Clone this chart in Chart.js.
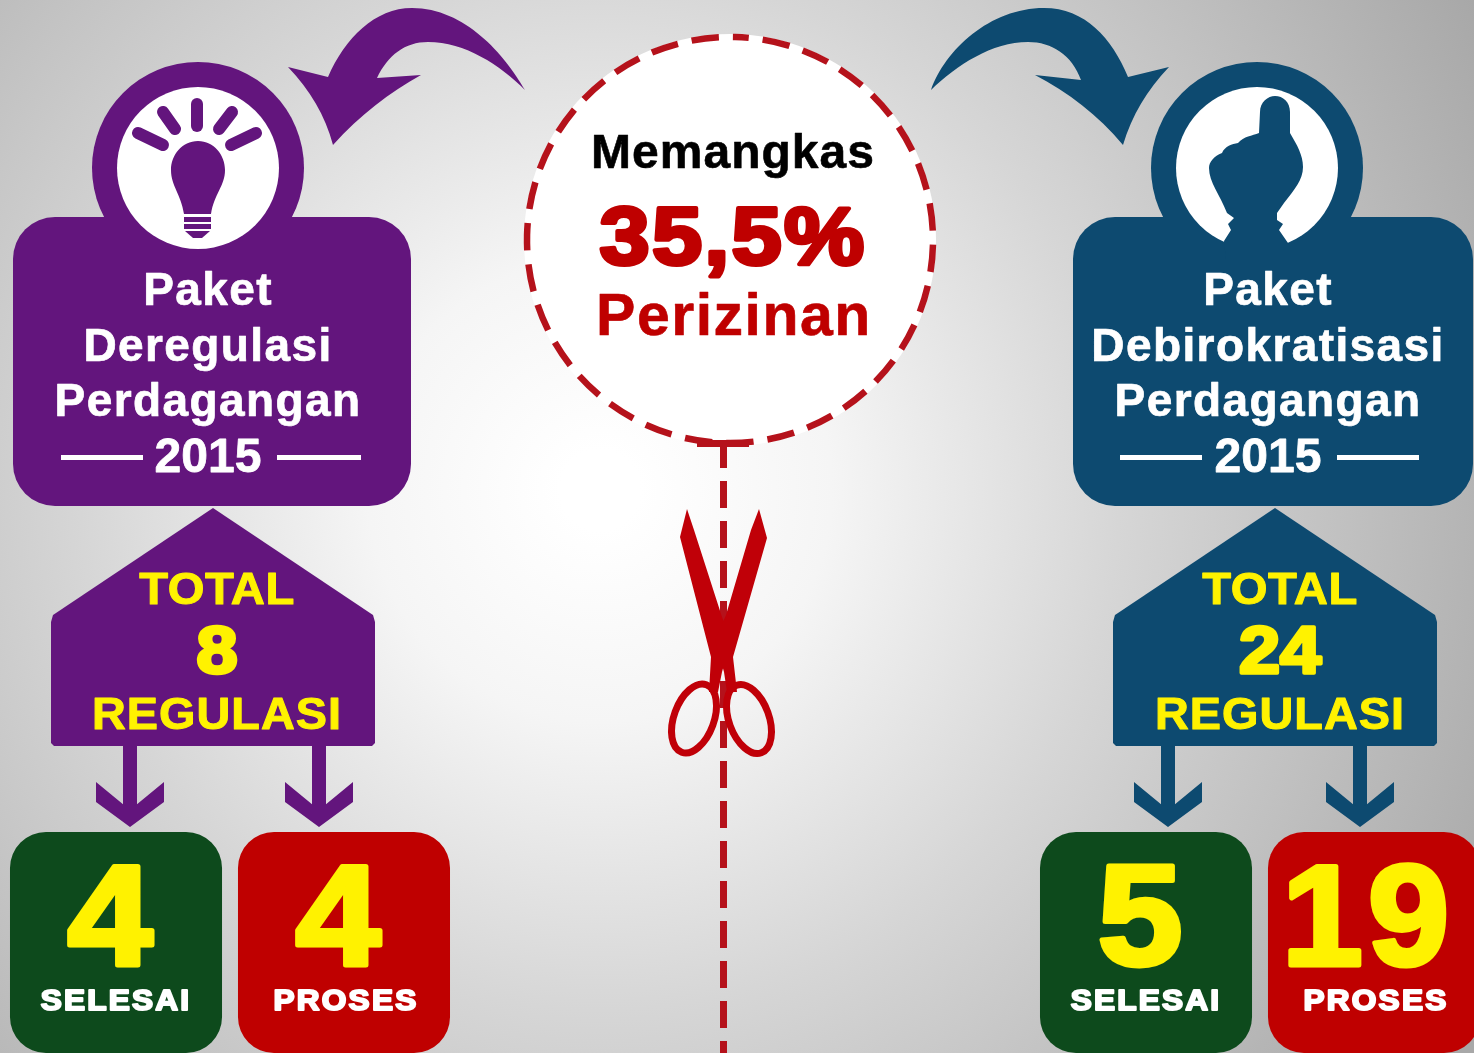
<!DOCTYPE html>
<html>
<head>
<meta charset="utf-8">
<title>Memangkas 35,5% Perizinan</title>
<script src="https://cdn.jsdelivr.net/npm/chart.js@4"></script>
<style>
  html, body { margin: 0; padding: 0; background: #ddd; overflow: hidden; }
  canvas { display: block; }
</style>
</head>
<body>
<canvas id="myChart" width="1474" height="1053"></canvas>
<script>
// Data
const packages = ["Deregulasi", "Debirokratisasi"];
const selesai = [4, 5];
const proses = [4, 19];
const totals = [8, 24];
const statusLabels = ["SELESAI", "PROSES"];
const packageTitles = [
  ["Paket", "Deregulasi", "Perdagangan"],
  ["Paket", "Debirokratisasi", "Perdagangan"],
];
const packageYear = "2015";
const totalWords = ["TOTAL", "REGULASI"];
const cutLabels = ["Memangkas", "35,5%", "Perizinan"];

const PURPLE = "#63157d";
const BLUE = "#0d4a70";
const GREEN = "#0d4a1c";
const RED = "#bf0000";
const DASH_RED = "#b5121b";
const YELLOW = "#fff200";
const FONT = '"Liberation Sans", Arial, sans-serif';

const ctx = document.getElementById("myChart").getContext("2d");

// every tile is the same size in the picture, whatever number it holds
class TileScale extends Chart.LinearScale {
  getPixelForValue(v) {
    return v > 0 ? this.top : this.bottom;
  }
}
TileScale.id = "tile";
TileScale.defaults = Chart.LinearScale.defaults;
Chart.register(TileScale);

function shape(c, color, points) {
  c.fillStyle = color;
  c.beginPath();
  c.moveTo(points[0][0], points[0][1]);
  points.slice(1).forEach((p) => {
    if (p.length === 2) c.lineTo(p[0], p[1]);
    else c.bezierCurveTo(p[0], p[1], p[2], p[3], p[4], p[5]);
  });
  c.closePath();
  c.fill();
}

function label(c, text, x, y, size, color, spacing, stroke, widen) {
  c.save();
  c.translate(x, y);
  c.scale(widen || 1, 1);
  c.font = "bold " + size + "px " + FONT;
  c.letterSpacing = (spacing || 0) + "px";
  c.textAlign = "center";
  c.textBaseline = "alphabetic";
  c.fillStyle = color;
  c.lineJoin = "round";
  if (stroke) {
    c.strokeStyle = color;
    c.lineWidth = stroke;
    c.strokeText(text, 0, 0);
  }
  c.fillText(text, 0, 0);
  c.restore();
}

function background(c) {
  const g = c.createRadialGradient(600, 490, 40, 600, 490, 1000);
  g.addColorStop(0, "#ffffff");
  g.addColorStop(0.2, "#f5f5f5");
  g.addColorStop(0.5, "#d6d6d6");
  g.addColorStop(1, "#a8a8a8");
  c.fillStyle = g;
  c.fillRect(0, 0, 1474, 1053);
}

function panel(c, color, left, right, cx) {
  c.fillStyle = color;
  c.beginPath();
  c.arc(cx, 168, 106, 0, Math.PI * 2);
  c.fill();
  c.beginPath();
  c.roundRect(left, 217, right - left, 289, 42);
  c.fill();
  c.fillStyle = "#fff";
  c.beginPath();
  c.arc(cx, 168, 81, 0, Math.PI * 2);
  c.fill();
}

function house(c, color, cx) {
  shape(c, color, [
    [cx, 508], [cx + 160, 615], [cx + 162, 622], [cx + 162, 743], [cx + 159, 746],
    [cx - 159, 746], [cx - 162, 743], [cx - 162, 622], [cx - 160, 615],
  ]);
}

function downArrow(c, color, x) {
  c.fillStyle = color;
  c.fillRect(x - 7, 744, 14, 70);
  shape(c, color, [
    [x - 34, 782], [x, 810], [x + 34, 782], [x + 34, 802], [x, 827], [x - 34, 802],
  ]);
}

function bulb(c) {
  c.strokeStyle = PURPLE;
  c.lineWidth = 12;
  c.lineCap = "round";
  [[197, 104, 197, 126], [163, 112, 175, 129], [138, 133, 163, 145], [232, 112, 219, 129], [256, 133, 231, 145]].forEach((r) => {
    c.beginPath();
    c.moveTo(r[0], r[1]);
    c.lineTo(r[2], r[3]);
    c.stroke();
  });
  c.lineCap = "butt";
  shape(c, PURPLE, [
    [198, 141],
    [214, 141, 225, 155, 225, 170],
    [225, 186, 214, 194, 211, 214],
    [184, 214],
    [181, 194, 171, 186, 171, 170],
    [171, 155, 182, 141, 198, 141],
  ]);
  c.fillStyle = PURPLE;
  c.fillRect(184, 217, 27, 5);
  c.fillRect(184, 224, 27, 5);
  shape(c, PURPLE, [[185, 231], [210, 231], [202, 238], [193, 238]]);
}

function hand(c) {
  shape(c, BLUE, [
    [1260, 112],
    [1260, 102, 1268, 96, 1275, 96],
    [1283, 96, 1290, 102, 1290, 112],
    [1290, 133],
    [1297, 145, 1303, 155, 1303, 167],
    [1303, 180, 1294, 190, 1284, 203],
    [1277, 213],
    [1277, 220], [1283, 224], [1279, 230], [1288, 243], [1288, 260],
    [1226, 260], [1224, 241], [1231, 230], [1228, 224], [1234, 218], [1227, 213],
    [1220, 195, 1209, 182, 1209, 168],
    [1209, 162, 1214, 156, 1222, 153],
    [1225, 146, 1232, 144, 1238, 143],
    [1244, 136, 1252, 136, 1259, 133],
  ]);
}

function curvedArrows(c) {
  shape(c, PURPLE, [
    [525, 90],
    [505, 55, 465, 8, 412, 8],
    [375, 8, 345, 38, 328, 77],
    [288, 67],
    [310, 90, 325, 115, 333, 145],
    [360, 115, 390, 92, 421, 75],
    [377, 78],
    [388, 55, 405, 42, 428, 42],
    [465, 42, 500, 65, 525, 90],
  ]);
  shape(c, BLUE, [
    [931, 90],
    [945, 50, 990, 8, 1044, 8],
    [1085, 8, 1112, 38, 1128, 77],
    [1169, 67],
    [1147, 90, 1132, 115, 1123, 145],
    [1098, 115, 1068, 92, 1035, 75],
    [1081, 80],
    [1072, 55, 1052, 42, 1028, 42],
    [992, 42, 957, 65, 931, 90],
  ]);
}

function cutLine(c) {
  c.fillStyle = "#fff";
  c.beginPath();
  c.arc(730, 240, 206, 0, Math.PI * 2);
  c.fill();
  c.strokeStyle = DASH_RED;
  c.lineWidth = 6.5;
  c.setLineDash([27.5, 14]);
  c.lineDashOffset = 13.75;
  c.beginPath();
  c.arc(730, 240, 203, -Math.PI / 2 + 0.025, Math.PI * 1.5 + 0.025);
  c.stroke();
  c.lineWidth = 7;
  c.setLineDash([27, 13]);
  c.lineDashOffset = 0;
  c.beginPath();
  c.moveTo(723.5, 441);
  c.lineTo(723.5, 1053);
  c.stroke();
  c.setLineDash([]);
  c.fillStyle = DASH_RED;
  c.fillRect(697, 440, 52, 7);
}

function scissors(c) {
  const col = "#c00008";
  shape(c, col, [
    [687, 509], [680, 537], [711, 657], [709, 692], [718, 692], [722, 672], [731, 640], [722, 617], [694, 530],
  ]);
  shape(c, col, [
    [759, 509], [767, 538], [733, 657], [737, 692], [727, 692], [724, 672], [715, 640], [726, 615], [751, 530],
  ]);
  c.strokeStyle = col;
  c.lineWidth = 7;
  c.beginPath();
  c.ellipse(694, 718.5, 20, 36, 0.35, 0, Math.PI * 2);
  c.stroke();
  c.beginPath();
  c.ellipse(749, 719, 20, 36, -0.35, 0, Math.PI * 2);
  c.stroke();
}

const infographic = {
  id: "infographic",
  beforeDatasetsDraw(chart) {
    const c = chart.ctx;
    c.save();
    background(c);
    curvedArrows(c);
    panel(c, PURPLE, 13, 411, 198);
    panel(c, BLUE, 1073, 1473, 1257);
    bulb(c);
    hand(c);
    house(c, PURPLE, 213);
    house(c, BLUE, 1275);
    [130, 319].forEach((x) => downArrow(c, PURPLE, x));
    [1168, 1360].forEach((x) => downArrow(c, BLUE, x));
    cutLine(c);
    scissors(c);
    c.restore();
  },
  afterDatasetsDraw(chart) {
    const c = chart.ctx;
    c.save();

    // centre circle
    label(c, cutLabels[0], 733, 168, 48, "#000", 1, 0.6);
    label(c, cutLabels[1], 733, 264, 82, "#bf0000", 2, 4, 1.1);
    label(c, cutLabels[2], 734, 335, 59, "#bf0000", 1.5, 0.6);

    // package panels
    [[208, 61, 143, 277, 361], [1268, 1120, 1202, 1337, 1419]].forEach((p, i) => {
      packageTitles[i].forEach((t, j) => {
        label(c, t, p[0], 305 + j * 55.5, 46, "#fff", 1.4, 0.7);
      });
      label(c, packageYear, p[0], 472, 48, "#fff", 0, 0.8);
      c.fillStyle = "#fff";
      c.fillRect(p[1], 455, p[2] - p[1], 5);
      c.fillRect(p[3], 455, p[4] - p[3], 5);
    });

    // totals
    [217, 1280].forEach((x, i) => {
      label(c, totalWords[0], x, 604, 45, YELLOW, 0.5, 1, 1.05);
      label(c, String(totals[i]), x, 673, 66, YELLOW, 0, 3.5, 1.12);
      label(c, totalWords[1], x, 729, 45, YELLOW, 1, 1, 1.04);
    });

    // tile numbers, placed on the bars the scales drew
    chart.data.datasets.forEach((ds, d) => {
      chart.getDatasetMeta(d).data.forEach((bar, i) => {
        const wide = String(ds.data[i]).length > 1;
        label(c, String(ds.data[i]), bar.x - 6, 965, 143, YELLOW, wide ? 5 : 0, 5, wide ? 1.02 : 1.07);
        label(c, statusLabels[d], bar.x + d * 2, 1010, 29, "#fff", 2, 2, 1.09);
      });
    });
    c.restore();
  },
};

const data = {
  labels: packages,
  datasets: [
    { label: "Selesai", data: selesai, backgroundColor: GREEN, borderRadius: 36, borderSkipped: false, clip: false },
    { label: "Proses", data: proses, backgroundColor: RED, borderRadius: 36, borderSkipped: false, clip: false },
  ],
};

const config = {
  type: "bar",
  data: data,
  plugins: [infographic],
  options: {
    responsive: false,
    animation: false,
    layout: { padding: { left: 230, right: 214, top: 832, bottom: 0 } },
    categoryPercentage: 0.4427,
    barPercentage: 0.93,
    plugins: {
      legend: { display: false },
      title: { display: false },
    },
    scales: {
      x: { display: false, offset: false },
      y: { type: "tile", display: false, min: 0, max: 20 },
    },
  },
};

const myChart = new Chart(ctx, config);
</script>
</body>
</html>
